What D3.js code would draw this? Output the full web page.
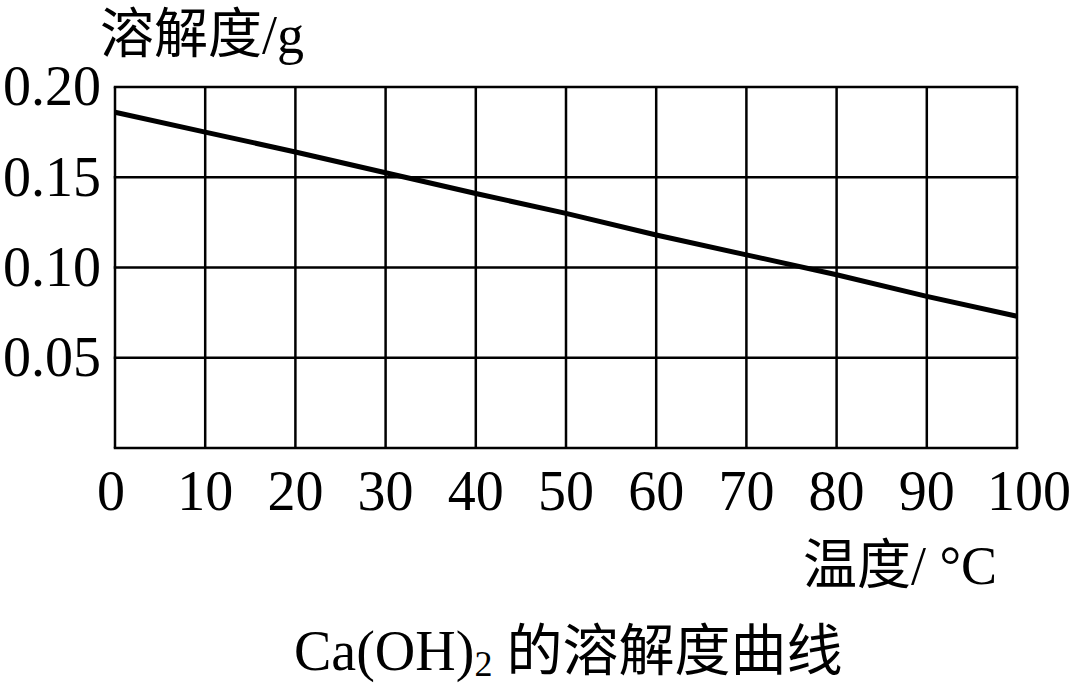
<!DOCTYPE html>
<html><head><meta charset="utf-8">
<script src="https://cdn.jsdelivr.net/npm/d3@7"></script>
<style>html,body{margin:0;padding:0;background:#fff;}svg{display:block;}</style>
</head><body>
<svg id="c" width="1080" height="683"></svg>
<script>
const temps = [0,10,20,30,40,50,60,70,80,90,100];
const solubility = [0.186,0.175,0.164,0.1525,0.141,0.130,0.118,0.107,0.096,0.084,0.073];
const xTicks = [0,10,20,30,40,50,60,70,80,90,100];
const yTicks = [0.05,0.10,0.15,0.20];
const yTickLabels = ["0.05","0.10","0.15","0.20"];
const yTitle = "溶解度/g";
const xTitle = "温度/ °C";
const titleMain = "Ca(OH)";
const titleSub = "2";
const titleRest = " 的溶解度曲线";

const svg = d3.select("#c");
const L=115,R=1017,T=87,B=448;
const x = d3.scaleLinear().domain([0,100]).range([L,R]);
const y = d3.scaleLinear().domain([0,0.20]).range([B,T]);
const font = "'Liberation Serif','Times New Roman','Noto Sans CJK SC',serif";

const g = svg.append("g");
// vertical grid
g.selectAll("line.v").data(xTicks).join("line")
  .attr("x1",d=>x(d)).attr("x2",d=>x(d)).attr("y1",T).attr("y2",B)
  .attr("stroke","#000").attr("stroke-width",2.5);
// horizontal grid
g.selectAll("line.h").data([0].concat(yTicks)).join("line").attr("class","h")
  .attr("x1",L-1.25).attr("x2",R+1.25).attr("y1",d=>y(d)).attr("y2",d=>y(d))
  .attr("stroke","#000").attr("stroke-width",2.5);

// curve
const line = d3.line().x((d,i)=>x(temps[i])).y(d=>y(d));
svg.append("path").datum(solubility).attr("d",line)
  .attr("fill","none").attr("stroke","#000").attr("stroke-width",5);

// y tick labels
svg.selectAll("text.yt").data(yTicks).join("text")
  .attr("x",101).attr("y",d=>y(d)).attr("dy","0.33em")
  .attr("text-anchor","end").attr("font-family",font).attr("font-size",56)
  .text((d,i)=>yTickLabels[i]);
// x tick labels
svg.selectAll("text.xt").data(xTicks).join("text")
  .attr("x",d=>x(d)+(d===100?12:(d===0?-4:0))).attr("y",510)
  .attr("text-anchor","middle").attr("font-family",font).attr("font-size",56)
  .text(d=>String(d));

// titles
svg.append("text").attr("x",100).attr("y",53).attr("font-family",font).attr("font-size",54).text(yTitle);
svg.append("text").attr("x",803).attr("y",584).attr("font-family",font).attr("font-size",54).text(xTitle);
const t = svg.append("text").attr("x",294).attr("y",670).attr("font-family",font).attr("font-size",56);
t.append("tspan").text(titleMain);
t.append("tspan").attr("font-size",36).attr("dy",6).text(titleSub);
t.append("tspan").attr("dy",-6).text(titleRest);
</script>
</body></html>
